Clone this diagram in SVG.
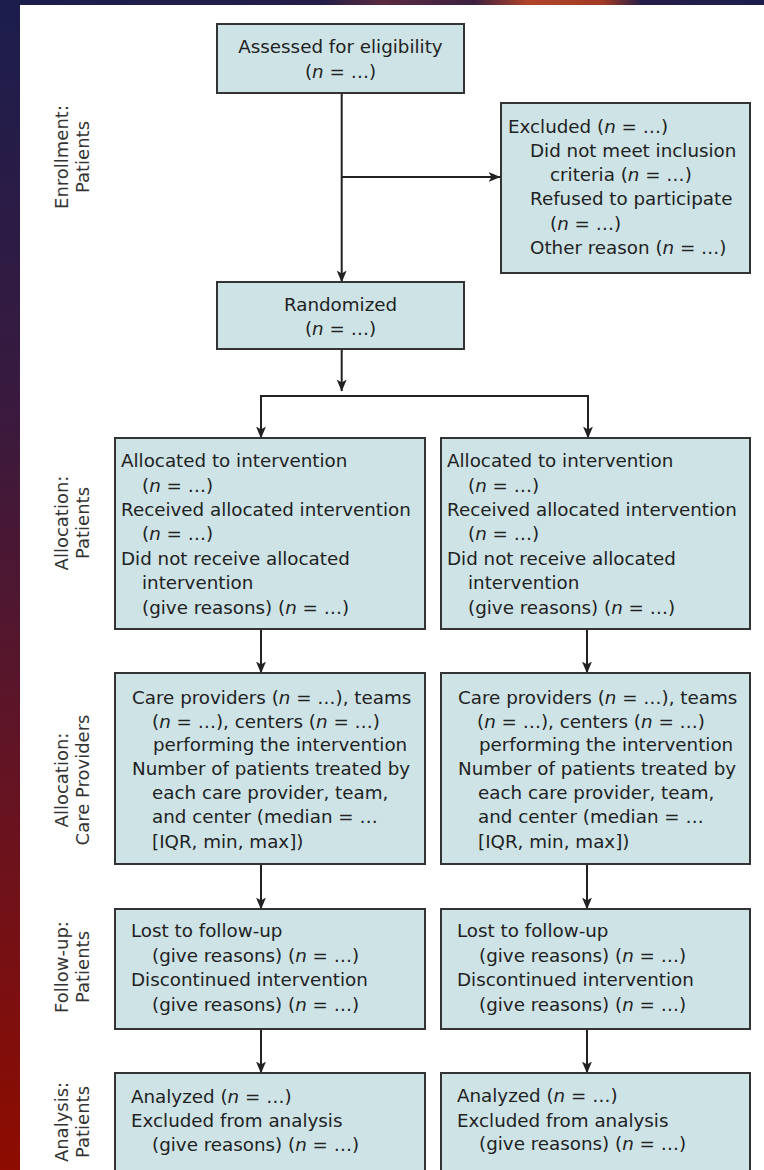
<svg xmlns="http://www.w3.org/2000/svg" width="764" height="1170" viewBox="0 0 764 1170">
<defs>
<linearGradient id="strip" x1="0" y1="0" x2="0" y2="1">
<stop offset="0" stop-color="#1b1d4d"/>
<stop offset="0.35" stop-color="#3a1a3e"/>
<stop offset="0.65" stop-color="#621424"/>
<stop offset="1" stop-color="#8e0c00"/>
</linearGradient>
<linearGradient id="topband" x1="0" y1="0" x2="1" y2="0">
<stop offset="0" stop-color="#1c1d4c"/>
<stop offset="0.42" stop-color="#231d48"/>
<stop offset="0.5" stop-color="#5a2a40"/>
<stop offset="0.62" stop-color="#3d2040"/>
<stop offset="0.69" stop-color="#b0442a"/>
<stop offset="0.79" stop-color="#a03a25"/>
<stop offset="0.84" stop-color="#251d48"/>
<stop offset="1" stop-color="#1c1d4c"/>
</linearGradient>
<marker id="arr" viewBox="0 0 12 12" markerWidth="12" markerHeight="12" refX="11.5" refY="6" orient="auto" markerUnits="userSpaceOnUse">
<path d="M0,1 L12,6 L0,11 L3,6 z" fill="#222"/>
</marker>
<style>
.box{fill:#cde3e6;stroke:#333;stroke-width:2}
.t{font-family:"DejaVu Sans","Liberation Sans",sans-serif;font-size:18.3px;fill:#222}
.c{text-anchor:middle}
.lbl{font-family:"DejaVu Sans","Liberation Sans",sans-serif;font-size:18px;fill:#333;text-anchor:middle}
.conn{stroke:#222;stroke-width:2;fill:none}
.i{font-style:italic}
</style>
</defs>
<rect x="0" y="0" width="764" height="1170" fill="#ffffff"/>
<rect x="0" y="0" width="20" height="1170" fill="url(#strip)"/>
<rect x="0" y="0" width="764" height="5" fill="url(#topband)"/>

<g id="labels">
<g id="lbl-enrollment">
<text class="lbl" transform="translate(68,157) rotate(-90)">Enrollment:</text>
<text class="lbl" transform="translate(89,157) rotate(-90)">Patients</text>
</g>
<g id="lbl-alloc-patients">
<text class="lbl" transform="translate(68,523) rotate(-90)">Allocation:</text>
<text class="lbl" transform="translate(89,523) rotate(-90)">Patients</text>
</g>
<g id="lbl-alloc-care">
<text class="lbl" transform="translate(68,780) rotate(-90)">Allocation:</text>
<text class="lbl" transform="translate(89,780) rotate(-90)">Care Providers</text>
</g>
<g id="lbl-followup">
<text class="lbl" transform="translate(68,967) rotate(-90)">Follow-up:</text>
<text class="lbl" transform="translate(89,967) rotate(-90)">Patients</text>
</g>
<g id="lbl-analysis">
<text class="lbl" transform="translate(68,1122) rotate(-90)">Analysis:</text>
<text class="lbl" transform="translate(89,1122) rotate(-90)">Patients</text>
</g>
</g>

<g id="connectors">
<path class="conn" d="M341.7,93 V282" marker-end="url(#arr)"/>
<path class="conn" d="M341.7,177 H500" marker-end="url(#arr)"/>
<path class="conn" d="M341.7,349 V391" marker-end="url(#arr)"/>
<path class="conn" d="M261,396 H588"/>
<path class="conn" d="M261,395 V438" marker-end="url(#arr)"/>
<path class="conn" d="M588,395 V438" marker-end="url(#arr)"/>
<path class="conn" d="M261,629 V673" marker-end="url(#arr)"/>
<path class="conn" d="M587,629 V673" marker-end="url(#arr)"/>
<path class="conn" d="M261,864 V909" marker-end="url(#arr)"/>
<path class="conn" d="M587,864 V909" marker-end="url(#arr)"/>
<path class="conn" d="M261,1029 V1073" marker-end="url(#arr)"/>
<path class="conn" d="M587,1029 V1073" marker-end="url(#arr)"/>
</g>

<g id="assessed">
<rect class="box" x="217" y="24" width="247" height="69"/>
<text class="t c" x="340.5" y="53">Assessed for eligibility</text>
<text class="t c" x="340.5" y="78">(<tspan class="i">n</tspan> = …)</text>
</g>

<g id="excluded">
<rect class="box" x="501" y="103" width="249" height="170"/>
<text class="t" x="508" y="133">Excluded (<tspan class="i">n</tspan> = …)</text>
<text class="t" x="530" y="157">Did not meet inclusion</text>
<text class="t" x="550" y="181">criteria (<tspan class="i">n</tspan> = …)</text>
<text class="t" x="530" y="205">Refused to participate</text>
<text class="t" x="550" y="230">(<tspan class="i">n</tspan> = …)</text>
<text class="t" x="530" y="254">Other reason (<tspan class="i">n</tspan> = …)</text>
</g>

<g id="randomized">
<rect class="box" x="217" y="282" width="247" height="67"/>
<text class="t c" x="340.5" y="311">Randomized</text>
<text class="t c" x="340.5" y="335">(<tspan class="i">n</tspan> = …)</text>
</g>

<g id="alloc-left">
<rect class="box" x="115" y="438" width="310" height="191"/>
<text class="t" x="121" y="467">Allocated to intervention</text>
<text class="t" x="142" y="492">(<tspan class="i">n</tspan> = …)</text>
<text class="t" x="121" y="516">Received allocated intervention</text>
<text class="t" x="142" y="540">(<tspan class="i">n</tspan> = …)</text>
<text class="t" x="121" y="565">Did not receive allocated</text>
<text class="t" x="142" y="589">intervention</text>
<text class="t" x="142" y="614">(give reasons) (<tspan class="i">n</tspan> = …)</text>
</g>

<g id="alloc-right">
<rect class="box" x="441" y="438" width="309" height="191"/>
<text class="t" x="447" y="467">Allocated to intervention</text>
<text class="t" x="468" y="492">(<tspan class="i">n</tspan> = …)</text>
<text class="t" x="447" y="516">Received allocated intervention</text>
<text class="t" x="468" y="540">(<tspan class="i">n</tspan> = …)</text>
<text class="t" x="447" y="565">Did not receive allocated</text>
<text class="t" x="468" y="589">intervention</text>
<text class="t" x="468" y="614">(give reasons) (<tspan class="i">n</tspan> = …)</text>
</g>

<g id="care-left">
<rect class="box" x="115" y="673" width="310" height="191"/>
<text class="t" x="132" y="704">Care providers (<tspan class="i">n</tspan> = …), teams</text>
<text class="t" x="152" y="728">(<tspan class="i">n</tspan> = …), centers (<tspan class="i">n</tspan> = …)</text>
<text class="t" x="153" y="751">performing the intervention</text>
<text class="t" x="132" y="775">Number of patients treated by</text>
<text class="t" x="152" y="799">each care provider, team,</text>
<text class="t" x="152" y="823">and center (median = …</text>
<text class="t" x="152" y="848">[IQR, min, max])</text>
</g>

<g id="care-right">
<rect class="box" x="441" y="673" width="309" height="191"/>
<text class="t" x="458" y="704">Care providers (<tspan class="i">n</tspan> = …), teams</text>
<text class="t" x="477" y="728">(<tspan class="i">n</tspan> = …), centers (<tspan class="i">n</tspan> = …)</text>
<text class="t" x="479" y="751">performing the intervention</text>
<text class="t" x="458" y="775">Number of patients treated by</text>
<text class="t" x="478" y="799">each care provider, team,</text>
<text class="t" x="478" y="823">and center (median = …</text>
<text class="t" x="478" y="848">[IQR, min, max])</text>
</g>

<g id="followup-left">
<rect class="box" x="115" y="909" width="310" height="120"/>
<text class="t" x="131" y="937">Lost to follow-up</text>
<text class="t" x="152" y="962">(give reasons) (<tspan class="i">n</tspan> = …)</text>
<text class="t" x="131" y="986">Discontinued intervention</text>
<text class="t" x="152" y="1011">(give reasons) (<tspan class="i">n</tspan> = …)</text>
</g>

<g id="followup-right">
<rect class="box" x="441" y="909" width="309" height="120"/>
<text class="t" x="457" y="937">Lost to follow-up</text>
<text class="t" x="479" y="962">(give reasons) (<tspan class="i">n</tspan> = …)</text>
<text class="t" x="457" y="986">Discontinued intervention</text>
<text class="t" x="479" y="1011">(give reasons) (<tspan class="i">n</tspan> = …)</text>
</g>

<g id="analysis-left">
<rect class="box" x="115" y="1073" width="310" height="105"/>
<text class="t" x="131" y="1103">Analyzed (<tspan class="i">n</tspan> = …)</text>
<text class="t" x="131" y="1127">Excluded from analysis</text>
<text class="t" x="152" y="1151">(give reasons) (<tspan class="i">n</tspan> = …)</text>
</g>

<g id="analysis-right">
<rect class="box" x="441" y="1073" width="309" height="105"/>
<text class="t" x="457" y="1102">Analyzed (<tspan class="i">n</tspan> = …)</text>
<text class="t" x="457" y="1127">Excluded from analysis</text>
<text class="t" x="479" y="1150">(give reasons) (<tspan class="i">n</tspan> = …)</text>
</g>
</svg>
